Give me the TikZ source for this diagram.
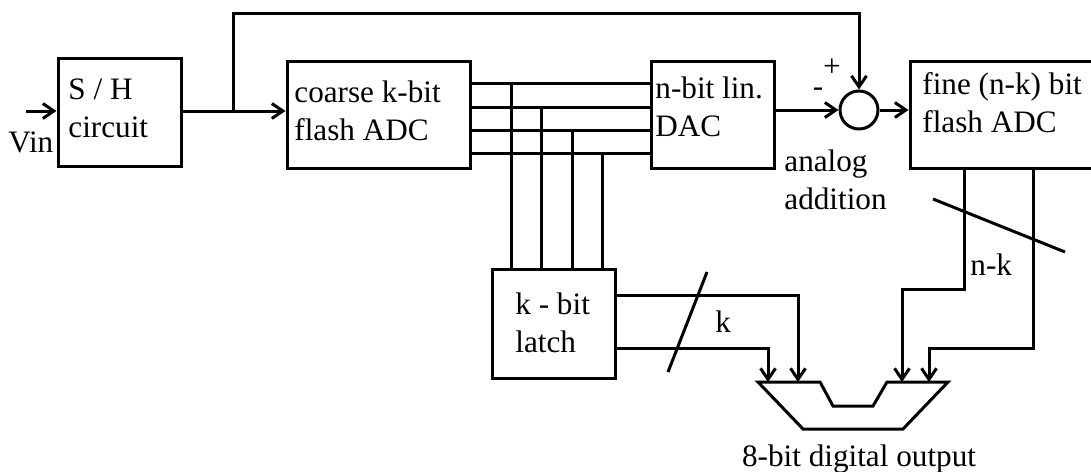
\documentclass[tikz,border=0pt]{standalone}
\usepackage{fontspec}
\setmainfont{Liberation Serif}
\usetikzlibrary{arrows.meta,positioning,calc}
\newcommand{\diagfont}{\fontsize{15.6}{19.3}\selectfont}
\tikzset{
    every picture/.style={line join=miter},
    block/.style={draw,line width=1.5pt,inner sep=0pt},
    txt/.style={inner sep=0pt,align=left,font=\diagfont},
    wire/.style={line width=1.5pt},
    arrowline/.style={wire,-{Straight Barb[length=5.5pt,width=7.5pt]}}
}
\begin{document}
\begin{tikzpicture}[x=0.5pt,y=-0.5pt]
  \useasboundingbox (0,0) rectangle (1091,471);
  \node[block,minimum width=61.5pt,minimum height=54pt] (sh) at (119.5,112) {};
  \node[block,minimum width=91.5pt,minimum height=53.5pt] (coarse) at (378.5,114.5) {};
  \node[block,minimum width=61.5pt,minimum height=53.5pt] (dac) at (712.5,114.5) {};
  \node[block,minimum width=95pt,minimum height=53.5pt] (fine) at (1005,114.5) {};
  \node[block,minimum width=61.5pt,minimum height=54.5pt] (latch) at (553.5,323.5) {};
  \node[block,circle,minimum size=19pt] (sum) at (859,110) {};
  \node[txt,anchor=north west] (shtxt) at (68,78) {S / H\\circuit};
  \node[txt,anchor=north west] (coarsetxt) at (294,80) {coarse k-bit\\flash ADC};
  \node[txt,anchor=north west] (dactxt) at (655,76) {n-bit lin.\\DAC};
  \node[txt,anchor=north west] (finetxt) at (922,72) {fine (n-k) bit\\flash ADC};
  \node[txt,anchor=north west] (latchtxt) at (515,292) {k - bit\\latch};
  \node[txt,anchor=north west] (addtxt) at (784,149) {analog\\addition};
  \node[txt,anchor=base west] (vintxt) at (8,152) {Vin};
  \node[txt] (plus) at (832,68) {+};
  \node[txt] (minus) at (818,92) {-};
  \coordinate (vin) at (26,111);
  \coordinate (split) at (233,111);
  \coordinate (top) at (233,13);
  \draw[arrowline] (vin) -- (sh.west |- vin);
  \draw[arrowline] (sh.east |- split) -- (coarse.west |- split);
  \draw[arrowline] (split) -- (top) -| (sum.north);
  \draw[arrowline] (dac.east |- sum.west) -- (sum.west);
  \draw[arrowline] (sum.east) -- (fine.west |- sum.east);
  \foreach \x/\y in {511/83,541/107,572/130,602/153}{
    \draw[wire] (coarse.east |- 0,\y) -- (dac.west |- 0,\y);
    \draw[wire] (\x,\y) -- (latch.north -| \x,0);
  }
  % output mux
  \coordinate (in1) at (768,382);
  \coordinate (in2) at (798,382);
  \coordinate (in3) at (902,382);
  \coordinate (in4) at (929,382);
  \draw[wire] (758,382) -- (820,382) -- (833,406) -- (873,406) -- (887,382)
    -- (948,382) -- (903,429) -- (803,429) -- cycle;
  \node[txt,anchor=base] (outtxt) at (859,466) {8-bit digital output};
  \draw[arrowline] (latch.east |- 0,295) -| (in2);
  \draw[arrowline] (latch.east |- 0,348) -| (in1);
  \draw[arrowline] (fine.south -| 964,0) -- (964,289) -| (in3);
  \draw[arrowline] (fine.south -| 1033,0) -- (1033,348) -| (in4);
  \draw[wire] (707,272) -- (668,372);
  \draw[wire] (933,199) -- (1065,252);
  \node[txt,anchor=base west] (klbl) at (715,332) {k};
  \node[txt,anchor=base west] (nklbl) at (970,275) {n-k};
\end{tikzpicture}
\end{document}
